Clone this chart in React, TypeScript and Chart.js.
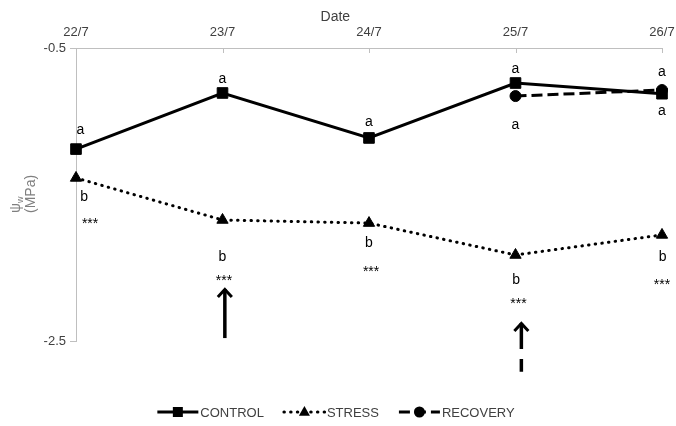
import React, { useEffect, useRef } from "react";
import { Chart, registerables } from "chart.js";
Chart.register(...registerables);

// ---- data ----
const dates = ["22/7", "23/7", "24/7", "25/7", "26/7"];
const control = [-1.19, -0.807, -1.114, -0.739, -0.812];
const stress = [-1.387, -1.674, -1.695, -1.913, -1.776];
const recovery = [null, null, null, -0.828, -0.787];
const yTicks = [-2.5, -0.5];
const xTitle = "Date";
const seriesNames = ["CONTROL", "STRESS", "RECOVERY"];

// significance annotations (category index, value)
const controlLetters = ["a", "a", "a", "a", "a"];
const controlLetterX = [0.03, 1, 2, 3, 4];
const controlLetterY = [-1.06, -0.712, -1.005, -0.643, -0.664];
const recoveryLetters = [null, null, null, "a", "a"];
const recoveryLetterX = [null, null, null, 3, 4];
const recoveryLetterY = [null, null, null, -1.026, -0.93];
const stressLetters = ["b", "b", "b", "b", "b"];
const stressLetterX = [0.055, 1, 2, 3.005, 4.005];
const stressLetterY = [-1.517, -1.927, -1.831, -2.084, -1.927];
const stars = ["***", "***", "***", "***", "***"];
const starX = [0.096, 1.01, 2.014, 3.02, 4.0];
const starY = [-1.674, -2.063, -2.002, -2.22, -2.09];

// arrows: category index, tail value, tip value
const arrowX = [1.016, 3.04];
const arrowTail = [-2.48, -2.71];
const arrowTip = [-2.138, -2.37];
const arrowDashed = [false, true];

const FONT = "'Liberation Sans', Arial, Helvetica, sans-serif";
const TEXT = "#404040";
const AXIS = "#bfbfbf";

function drawMarker(ctx: CanvasRenderingContext2D, style: string, x: number, y: number, r: number) {
  ctx.beginPath();
  if (style === "rect") {
    ctx.rect(x - r, y - r, 2 * r, 2 * r);
  } else if (style === "triangle") {
    ctx.moveTo(x, y - r * 1.1);
    ctx.lineTo(x + r, y + r * 0.7);
    ctx.lineTo(x - r, y + r * 0.7);
    ctx.closePath();
  } else {
    ctx.arc(x, y, r, 0, Math.PI * 2);
  }
  ctx.fill();
}

export default function App() {
  const ref = useRef<HTMLCanvasElement>(null);
  useEffect(() => {
    document.body.style.margin = "0";
    const canvas = ref.current!;

    const overlay = {
      id: "overlay",
      afterDraw(chart: any) {
        const { ctx, chartArea, scales } = chart;
        const x = scales.x;
        const y = scales.y;
        ctx.save();
        // inner tick marks on top axis
        ctx.strokeStyle = AXIS;
        ctx.lineWidth = 1;
        dates.forEach((_, i) => {
          const px = Math.round(x.getPixelForValue(i)) + 0.5;
          ctx.beginPath();
          ctx.moveTo(px, chartArea.top);
          ctx.lineTo(px, chartArea.top + 5);
          ctx.stroke();
        });
        // axis title "Date"
        ctx.fillStyle = TEXT;
        ctx.font = `14px ${FONT}`;
        ctx.textAlign = "center";
        ctx.textBaseline = "middle";
        ctx.fillText(xTitle, x.getPixelForValue(1.77), 17);

        // y title (rotated, two lines, start-aligned)
        ctx.save();
        ctx.fillStyle = "#7f7f7f";
        ctx.translate(20, 213);
        ctx.rotate(-Math.PI / 2);
        ctx.textAlign = "left";
        ctx.textBaseline = "alphabetic";
        ctx.font = `14px ${FONT}`;
        const psiW = ctx.measureText("ψ").width;
        ctx.fillText("ψ", 0, 0);
        ctx.font = `9px ${FONT}`;
        ctx.fillText("w", psiW, 3);
        ctx.font = `14px ${FONT}`;
        ctx.fillText("(MPa)", 0, 15);
        ctx.restore();

        // annotations
        ctx.fillStyle = "#000";
        ctx.textAlign = "center";
        const put = (txts: any[], xs: any[], ys: any[], dy: number) => {
          txts.forEach((t, i) => {
            if (t == null) return;
            ctx.fillText(t, x.getPixelForValue(xs[i]), y.getPixelForValue(ys[i]) + dy);
          });
        };
        ctx.textBaseline = "middle";
        ctx.font = `14px ${FONT}`;
        put(controlLetters, controlLetterX, controlLetterY, 0);
        put(recoveryLetters, recoveryLetterX, recoveryLetterY, 0);
        put(stressLetters, stressLetterX, stressLetterY, 0);
        ctx.textBaseline = "alphabetic";
        ctx.font = `14px ${FONT}`;
        put(stars, starX, starY, 8);

        // arrows
        ctx.strokeStyle = "#000";
        ctx.lineCap = "butt";
        arrowX.forEach((ax, i) => {
          const px = x.getPixelForValue(ax);
          const tail = y.getPixelForValue(arrowTail[i]);
          const tip = y.getPixelForValue(arrowTip[i]);
          ctx.lineWidth = 3.5;
          ctx.setLineDash(arrowDashed[i] ? [26, 10] : []);
          ctx.beginPath();
          ctx.moveTo(px, tip + 1);
          ctx.lineTo(px, tail);
          ctx.stroke();
          ctx.setLineDash([]);
          ctx.lineWidth = 3;
          ctx.lineJoin = "miter";
          ctx.beginPath();
          ctx.moveTo(px - 7, tip + 9);
          ctx.lineTo(px, tip + 1.5);
          ctx.lineTo(px + 7, tip + 9);
          ctx.stroke();
        });

        // legend
        const ds = chart.data.datasets;
        ctx.font = `13px ${FONT}`;
        const sample = 41;
        const gap = 20;
        const widths = seriesNames.map((n) => sample + 2 + ctx.measureText(n).width);
        const total = widths.reduce((a, b) => a + b, 0) + gap * (seriesNames.length - 1);
        let lx = chart.width / 2 - total / 2 - 2;
        const ly = 412;
        seriesNames.forEach((name, k) => {
          const d = ds.find((dd: any) => dd.label === name);
          ctx.strokeStyle = "#000";
          ctx.fillStyle = "#000";
          ctx.lineWidth = 3;
          ctx.lineCap = d.borderCapStyle || "butt";
          ctx.setLineDash(d.borderDash || []);
          ctx.beginPath();
          ctx.moveTo(lx, ly);
          ctx.lineTo(lx + sample, ly);
          ctx.stroke();
          ctx.setLineDash([]);
          drawMarker(ctx, d.pointStyle, lx + sample / 2, ly, d.pointStyle === "rect" ? 5 : 5.5);
          ctx.fillStyle = TEXT;
          ctx.textAlign = "left";
          ctx.textBaseline = "middle";
          ctx.fillText(name, lx + sample + 2, ly + 1);
          lx += widths[k] + gap;
        });
        ctx.restore();
      },
    };

    const chart = new Chart(canvas, {
      type: "line",
      data: {
        labels: dates,
        datasets: [
          {
            label: seriesNames[0],
            data: control,
            borderColor: "#000",
            backgroundColor: "#000",
            borderWidth: 3,
            pointStyle: "rect",
            pointRadius: 7.5,
            pointBackgroundColor: "#000",
            pointBorderColor: "#000",
            pointBorderWidth: 1,
            tension: 0,
            clip: false,
            order: 2,
          },
          {
            label: seriesNames[1],
            data: stress,
            borderColor: "#000",
            backgroundColor: "#000",
            borderWidth: 3,
            borderDash: [0.5, 6.2],
            borderCapStyle: "round",
            pointStyle: "triangle",
            pointRadius: 6.5,
            pointBackgroundColor: "#000",
            pointBorderColor: "#000",
            pointBorderWidth: 1,
            tension: 0,
            clip: false,
            order: 3,
          },
          {
            label: seriesNames[2],
            data: recovery,
            borderColor: "#000",
            backgroundColor: "#000",
            borderWidth: 3,
            borderDash: [11, 5],
            pointStyle: "circle",
            pointRadius: 5.5,
            pointBackgroundColor: "#000",
            pointBorderColor: "#000",
            pointBorderWidth: 1,
            tension: 0,
            spanGaps: false,
            clip: false,
            order: 1,
          },
        ],
      } as any,
      options: {
        responsive: false,
        animation: false,
        events: [],
        layout: { padding: { left: 0, top: 0, right: 14, bottom: 85 } },
        plugins: { legend: { display: false }, tooltip: { enabled: false }, title: { display: false } },
        scales: {
          x: {
            type: "category",
            position: "top",
            offset: false,
            grid: { display: true, drawOnChartArea: false, drawTicks: false, color: AXIS },
            border: { display: true, color: AXIS, width: 1 },
            ticks: { color: TEXT, font: { size: 13, family: FONT }, padding: 8, maxRotation: 0, autoSkip: false },
            afterFit: (s: any) => {
              s.height = 48;
              s.paddingLeft = 0;
              s.paddingRight = 0;
            },
          },
          y: {
            min: -2.5,
            max: -0.5,
            afterBuildTicks: (s: any) => {
              s.ticks = yTicks.map((v) => ({ value: v }));
            },
            ticks: { color: TEXT, font: { size: 13, family: FONT }, padding: 4, callback: (v: any) => String(v) },
            grid: { drawOnChartArea: false, drawTicks: true, tickLength: 6, color: AXIS },
            border: { display: true, color: AXIS, width: 1 },
            afterFit: (s: any) => {
              s.width = 76;
              s.paddingTop = 0;
              s.paddingBottom = 0;
            },
          },
        },
      } as any,
      plugins: [overlay],
    });
    return () => chart.destroy();
  }, []);
  return <canvas ref={ref} width={676} height={426} style={{ display: "block" }} />;
}
